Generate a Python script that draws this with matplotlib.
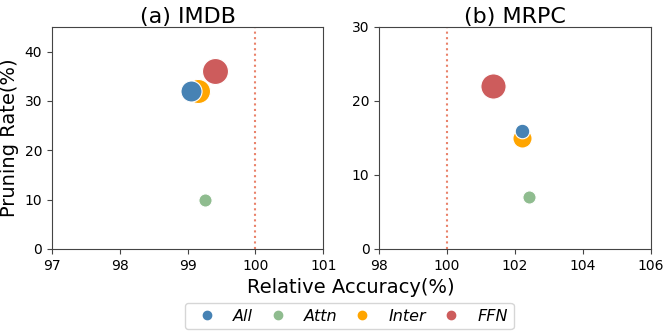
import numpy as np
import matplotlib.pyplot as plt

methods = ['All', 'Attn', 'Inter', 'FFN']
colors = {'All': '#4682b4', 'Attn': '#8fbc8f', 'Inter': '#ffa500', 'FFN': '#cd5c5c'}
zorders = {'All': 4, 'Attn': 4, 'Inter': 3, 'FFN': 3}

imdb_acc = [99.05, 99.26, 99.15, 99.4]
imdb_rate = [32, 10, 32, 36]
imdb_size = [230, 90, 300, 350]

mrpc_acc = [102.2, 102.4, 102.2, 101.35]
mrpc_rate = [16, 7, 15, 22]
mrpc_size = [110, 90, 190, 330]

fig = plt.figure(figsize=(6.64, 3.32), dpi=100)
ax1 = fig.add_axes([0.078, 0.25, 0.409, 0.669])
ax2 = fig.add_axes([0.571, 0.25, 0.409, 0.669])

for ax, acc, rate, size in [(ax1, imdb_acc, imdb_rate, imdb_size),
                            (ax2, mrpc_acc, mrpc_rate, mrpc_size)]:
	for i, m in enumerate(methods):
		ax.scatter(acc[i], rate[i], s=size[i], color=colors[m], edgecolor='white',
				   linewidth=0.8, zorder=zorders[m], label=m)
	ax.axvline(100, color='#e9826a', linestyle=':', linewidth=1.5, zorder=1)
	ax.tick_params(labelsize=10, color='#444444')
	for sp in ax.spines.values():
		sp.set_color('#444444')

ax1.set_xlim(97, 101)
ax1.set_xticks([97, 98, 99, 100, 101])
ax1.set_ylim(0, 45)
ax1.set_yticks([0, 10, 20, 30, 40])
ax1.set_title('(a) IMDB', fontsize=16, pad=3)
ax1.set_ylabel('Pruning Rate(%)', fontsize=14)

ax2.set_xlim(98, 106)
ax2.set_xticks([98, 100, 102, 104, 106])
ax2.set_ylim(0, 30)
ax2.set_yticks([0, 10, 20, 30])
ax2.set_title('(b) MRPC', fontsize=16, pad=3)

fig.text(0.529, 0.135, 'Relative Accuracy(%)', ha='center', va='center', fontsize=14)

handles = [plt.Line2D([], [], marker='o', linestyle='', color=colors[m], markersize=6) for m in methods]
leg = fig.legend(handles, methods, loc='center', bbox_to_anchor=(0.526, 0.048), ncol=4,
				 prop={'style': 'italic', 'size': 11.5}, handlelength=2.0,
				 handletextpad=0.65, columnspacing=0.55, borderpad=0.35)

fig.savefig('out.png', dpi=100)
